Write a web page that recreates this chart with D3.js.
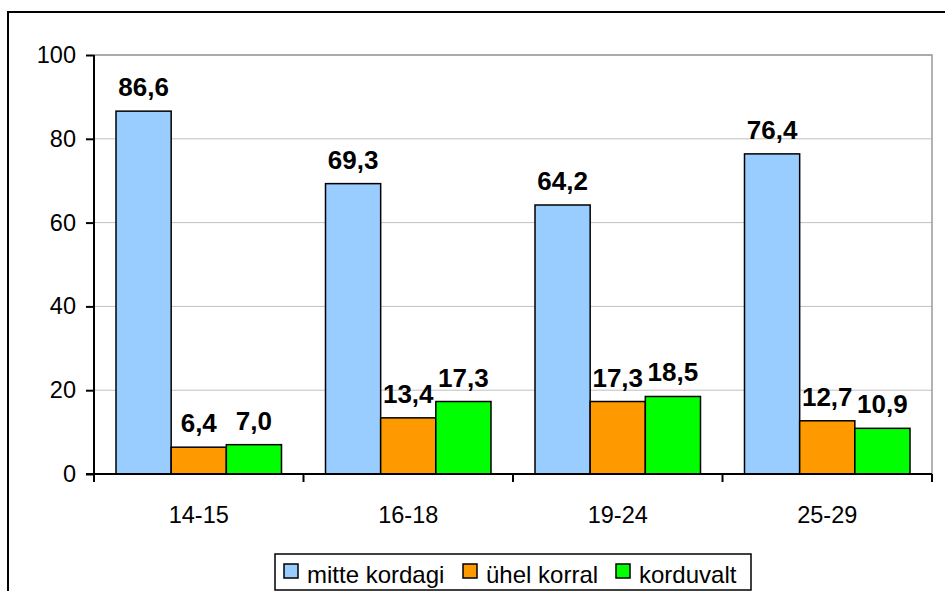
<!DOCTYPE html>
<html>
<head>
<meta charset="utf-8">
<script src="https://cdnjs.cloudflare.com/ajax/libs/d3/7.8.5/d3.min.js"></script>
<style>
  body { margin: 0; background: #fff; }
  svg { display: block; font-family: Arial, "Liberation Sans", sans-serif; }
</style>
</head>
<body>
<svg id="chart" width="945" height="591"></svg>
<script>
var categories = ['14-15', '16-18', '19-24', '25-29'];
var seriesNames = ['mitte kordagi', 'ühel korral', 'korduvalt'];
var mitteKordagi = [86.6, 69.3, 64.2, 76.4];
var uhelKorral = [6.4, 13.4, 17.3, 12.7];
var korduvalt = [7.0, 17.3, 18.5, 10.9];
var yTicks = [0, 20, 40, 60, 80, 100];
var colors = ['#99ccff', '#ff9900', '#00ff00'];

var seriesValues = [mitteKordagi, uhelKorral, korduvalt];
var rows = categories.map(function(c, i) {
    return {cat: c, values: seriesNames.map(function(s, j) {
        return {key: s, value: seriesValues[j][i]};
    })};
});

var svg = d3.select('#chart');

// outer chart frame
svg.append('rect')
    .attr('x', 8).attr('y', 12)
    .attr('width', 960).attr('height', 600)
    .attr('fill', 'none')
    .attr('stroke', '#000')
    .attr('stroke-width', 2);

var plotLeft = 94, plotRight = 932, plotTop = 55, plotBottom = 474;

var x0 = d3.scaleBand().domain(categories).range([plotLeft, plotRight]);
var x1 = d3.scaleBand().domain(seriesNames).range([22, x0.bandwidth() - 22]);
var y = d3.scaleLinear().domain([0, 100]).range([plotBottom, plotTop]);
var z = d3.scaleOrdinal().domain(seriesNames).range(colors);

// grid
svg.append('g')
    .selectAll('line')
    .data(yTicks.slice(1))
    .enter().append('line')
    .attr('x1', plotLeft).attr('x2', plotRight)
    .attr('y1', function(d) { return y(d); })
    .attr('y2', function(d) { return y(d); })
    .attr('stroke', '#c0c0c0')
    .attr('stroke-width', 1);

// plot area border top/right
svg.append('path')
    .attr('d', 'M' + plotLeft + ',' + y(100) + 'H' + plotRight + 'V' + plotBottom)
    .attr('fill', 'none')
    .attr('stroke', '#999')
    .attr('stroke-width', 1.5);

// bars
var groups = svg.append('g')
    .selectAll('g')
    .data(rows)
    .enter().append('g')
    .attr('transform', function(d) { return 'translate(' + x0(d.cat) + ',0)'; });

groups.selectAll('rect')
    .data(function(d) { return d.values; })
    .enter().append('rect')
    .attr('x', function(d) { return x1(d.key); })
    .attr('y', function(d) { return y(d.value); })
    .attr('width', x1.bandwidth())
    .attr('height', function(d) { return plotBottom - y(d.value); })
    .attr('fill', function(d) { return z(d.key); })
    .attr('stroke', '#000')
    .attr('stroke-width', 1.5);

groups.selectAll('text')
    .data(function(d) { return d.values; })
    .enter().append('text')
    .attr('x', function(d) { return x1(d.key) + x1.bandwidth() / 2; })
    .attr('y', function(d) { return y(d.value) - 15; })
    .attr('text-anchor', 'middle')
    .attr('font-size', 26)
    .attr('font-weight', 'bold')
    .text(function(d) { return d.value.toFixed(1).replace('.', ','); });

// y axis
var yAxis = svg.append('g')
    .attr('transform', 'translate(' + plotLeft + ',0)')
    .call(d3.axisLeft(y).tickValues(yTicks).tickSize(8).tickPadding(10));
yAxis.select('.domain').remove();
yAxis.selectAll('line').attr('stroke', '#000').attr('stroke-width', 2);
yAxis.selectAll('text')
    .attr('font-size', 23.5)
    .attr('font-family', 'Arial, "Liberation Sans", sans-serif')
    .attr('fill', '#000');
svg.append('line')
    .attr('x1', plotLeft).attr('x2', plotLeft)
    .attr('y1', plotTop).attr('y2', plotBottom + 8)
    .attr('stroke', '#000').attr('stroke-width', 2);

// x axis
svg.append('line')
    .attr('x1', plotLeft - 8).attr('x2', plotRight)
    .attr('y1', plotBottom).attr('y2', plotBottom)
    .attr('stroke', '#000').attr('stroke-width', 2);
svg.append('g')
    .selectAll('line')
    .data(categories.slice(1).concat(['end']))
    .enter().append('line')
    .attr('x1', function(d) { return d === 'end' ? plotRight : x0(d); })
    .attr('x2', function(d) { return d === 'end' ? plotRight : x0(d); })
    .attr('y1', plotBottom).attr('y2', plotBottom + 8)
    .attr('stroke', '#000').attr('stroke-width', 2);
svg.append('g')
    .selectAll('text')
    .data(categories)
    .enter().append('text')
    .attr('x', function(d) { return x0(d) + x0.bandwidth() / 2; })
    .attr('y', 523)
    .attr('text-anchor', 'middle')
    .attr('font-size', 23.5)
    .text(function(d) { return d; });

// legend
svg.append('rect')
    .attr('x', 275).attr('y', 554)
    .attr('width', 476).attr('height', 36)
    .attr('fill', '#fff')
    .attr('stroke', '#000')
    .attr('stroke-width', 1.5);
var legendX = [284, 463, 616];
var legend = svg.append('g')
    .selectAll('g')
    .data(seriesNames)
    .enter().append('g')
    .attr('transform', function(d, i) { return 'translate(' + legendX[i] + ',564)'; });
legend.append('rect')
    .attr('width', 14).attr('height', 14)
    .attr('fill', z)
    .attr('stroke', '#000')
    .attr('stroke-width', 1.5);
legend.append('text')
    .attr('x', 23)
    .attr('y', 19)
    .attr('font-size', 24)
    .text(function(d) { return d; });
</script>
</body>
</html>
